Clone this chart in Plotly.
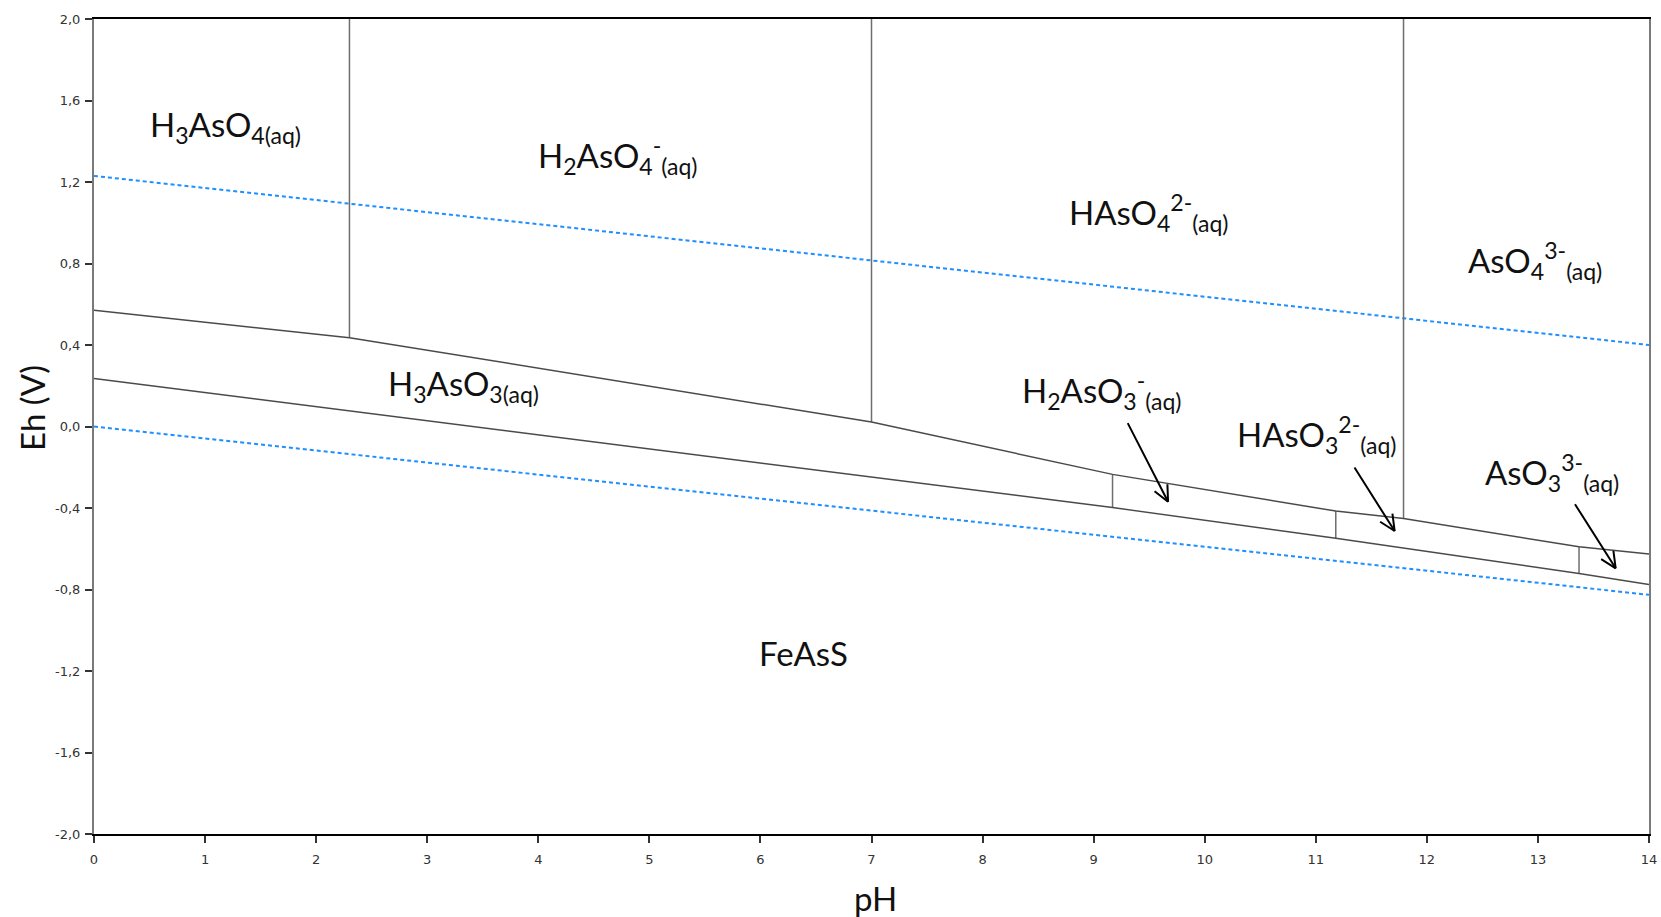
import math
import plotly.graph_objects as go

# ---- data ----
ph_water = [0, 14]
eh_o2 = [1.23, 0.40]          # upper water stability line
eh_h2 = [0.0, -0.826]         # lower water stability line

ph_upper = [0, 2.30, 7.0, 9.17, 11.18, 11.79, 13.37, 14]
eh_upper = [0.570, 0.436, 0.022, -0.235, -0.415, -0.452, -0.590, -0.626]

ph_lower = [0, 9.17, 11.18, 13.37, 14]
eh_lower = [0.236, -0.398, -0.549, -0.721, -0.775]

vert_ph = [2.30, 7.0, 11.79, 9.17, 11.18, 13.37]
vert_eh_bottom = [0.436, 0.022, -0.452, -0.398, -0.549, -0.721]
vert_eh_top = [2.0, 2.0, 2.0, -0.235, -0.415, -0.590]

label_text = [
    "H<sub>3</sub>AsO<sub>4(aq)</sub>",
    "H<sub>2</sub>AsO<sub>4</sub><sup>-</sup><sub>(aq)</sub>",
    "HAsO<sub>4</sub><sup>2-</sup><sub>(aq)</sub>",
    "AsO<sub>4</sub><sup>3-</sup><sub>(aq)</sub>",
    "H<sub>3</sub>AsO<sub>3(aq)</sub>",
    "H<sub>2</sub>AsO<sub>3</sub><sup>-</sup><sub>(aq)</sub>",
    "HAsO<sub>3</sub><sup>2-</sup><sub>(aq)</sub>",
    "AsO<sub>3</sub><sup>3-</sup><sub>(aq)</sub>",
    "FeAsS",
]
label_ph = [1.18, 4.71, 9.49, 12.97, 3.33, 9.07, 11.01, 13.13, 6.39]
label_eh = [1.472, 1.33, 1.05, 0.815, 0.20, 0.175, -0.04, -0.225, -1.11]

# arrows: tail (pH, Eh) -> head (pH, Eh)
arrow_tail_ph = [9.30, 11.34, 13.325]
arrow_tail_eh = [0.024, -0.194, -0.374]
arrow_head_ph = [9.67, 11.71, 13.70]
arrow_head_eh = [-0.369, -0.513, -0.696]

x_ticks = list(range(0, 15))
y_ticks = [-2.0, -1.6, -1.2, -0.8, -0.4, 0.0, 0.4, 0.8, 1.2, 1.6, 2.0]
y_tick_text = ["-2,0", "-1,6", "-1,2", "-0,8", "-0,4", "0,0", "0,4", "0,8", "1,2", "1,6", "2,0"]

# ---- layout constants ----
W, H = 1661, 917
ML, MR, MT, MB = 94, 12, 19, 83
X_RANGE = [0, 14]
Y_RANGE = [-2, 2]
kx = (W - ML - MR) / (X_RANGE[1] - X_RANGE[0])
ky = (H - MT - MB) / (Y_RANGE[1] - Y_RANGE[0])

LINE_COL = "#4a4a4a"
VERT_COL = "#6e6e6e"
BLUE = "#1f8fff"
LABEL_FONT = "Lato"

fig = go.Figure()

fig.add_trace(go.Scatter(x=ph_water, y=eh_o2, mode="lines",
                         line=dict(color=BLUE, width=2, dash="4px,3px"), hoverinfo="skip"))
fig.add_trace(go.Scatter(x=ph_water, y=eh_h2, mode="lines",
                         line=dict(color=BLUE, width=2, dash="4px,3px"), hoverinfo="skip"))

vx, vy = [], []
for p, b, t in zip(vert_ph, vert_eh_bottom, vert_eh_top):
    vx += [p, p, None]
    vy += [b, t, None]
fig.add_trace(go.Scatter(x=vx, y=vy, mode="lines",
                         line=dict(color=VERT_COL, width=1.5), hoverinfo="skip"))

fig.add_trace(go.Scatter(x=ph_upper, y=eh_upper, mode="lines",
                         line=dict(color=LINE_COL, width=1.5), hoverinfo="skip"))
fig.add_trace(go.Scatter(x=ph_lower, y=eh_lower, mode="lines",
                         line=dict(color=LINE_COL, width=1.5), hoverinfo="skip"))

annotations = []
for t, x, y in zip(label_text, label_ph, label_eh):
    annotations.append(dict(x=x, y=y, xref="x", yref="y", text=t, showarrow=False,
                            font=dict(family=LABEL_FONT, size=33, color="#111111"),
                            xanchor="center", yanchor="middle"))

HEAD_LEN = 19
HEAD_ANG = math.radians(25)
for x0, y0, x1, y1 in zip(arrow_tail_ph, arrow_tail_eh, arrow_head_ph, arrow_head_eh):
    annotations.append(dict(x=x1, y=y1, ax=x0, ay=y0, xref="x", yref="y", axref="x", ayref="y",
                            text="", showarrow=True, arrowhead=0, arrowwidth=2,
                            arrowcolor="#000000", standoff=0, startstandoff=0))
    dx = (x0 - x1) * kx
    dy = -(y0 - y1) * ky
    n = math.hypot(dx, dy)
    ux, uy = dx / n, dy / n
    for s in (1, -1):
        c, sn = math.cos(s * HEAD_ANG), math.sin(s * HEAD_ANG)
        rx = ux * c - uy * sn
        ry = ux * sn + uy * c
        annotations.append(dict(x=x1, y=y1, xref="x", yref="y", ax=rx * HEAD_LEN, ay=ry * HEAD_LEN,
                                text="", showarrow=True, arrowhead=0, arrowwidth=2,
                                arrowcolor="#000000", standoff=0, startstandoff=0))

# axis titles as paper-positioned annotations
annotations.append(dict(x=(32 - ML) / (W - ML - MR), y=(H - MB - 408) / (H - MT - MB),
                        xref="paper", yref="paper", text="Eh (V)", showarrow=False, textangle=-90,
                        font=dict(family=LABEL_FONT, size=33, color="#111111"),
                        xanchor="center", yanchor="middle"))
annotations.append(dict(x=(875 - ML) / (W - ML - MR), y=(H - MB - 898) / (H - MT - MB),
                        xref="paper", yref="paper", text="pH", showarrow=False,
                        font=dict(family=LABEL_FONT, size=33, color="#111111"),
                        xanchor="center", yanchor="middle"))

fig.update_layout(
    width=W, height=H,
    margin=dict(l=ML, r=MR, t=MT, b=MB, autoexpand=False),
    paper_bgcolor="white", plot_bgcolor="white",
    showlegend=False,
    annotations=annotations,
    xaxis=dict(range=X_RANGE, tickvals=x_ticks, ticktext=[str(v) for v in x_ticks],
               ticks="outside", ticklen=7, tickwidth=1.8, tickcolor="#333333",
               ticklabelstandoff=5,
               showgrid=False, zeroline=False, automargin=False,
               showline=True, linecolor="#000000", linewidth=2, mirror=True,
               tickfont=dict(family="DejaVu Sans", size=13, color="#333333")),
    yaxis=dict(range=Y_RANGE, tickvals=y_ticks, ticktext=y_tick_text,
               ticks="outside", ticklen=7, tickwidth=1.8, tickcolor="#333333",
               ticklabelstandoff=2,
               showgrid=False, zeroline=False, automargin=False,
               showline=True, linecolor="#7a7a7a", linewidth=2, mirror=True,
               tickfont=dict(family="DejaVu Sans", size=13, color="#333333")),
)

fig.write_html("out.html", config={"displayModeBar": False},
               post_script="document.body.style.margin='0';document.body.style.overflow='hidden';")
